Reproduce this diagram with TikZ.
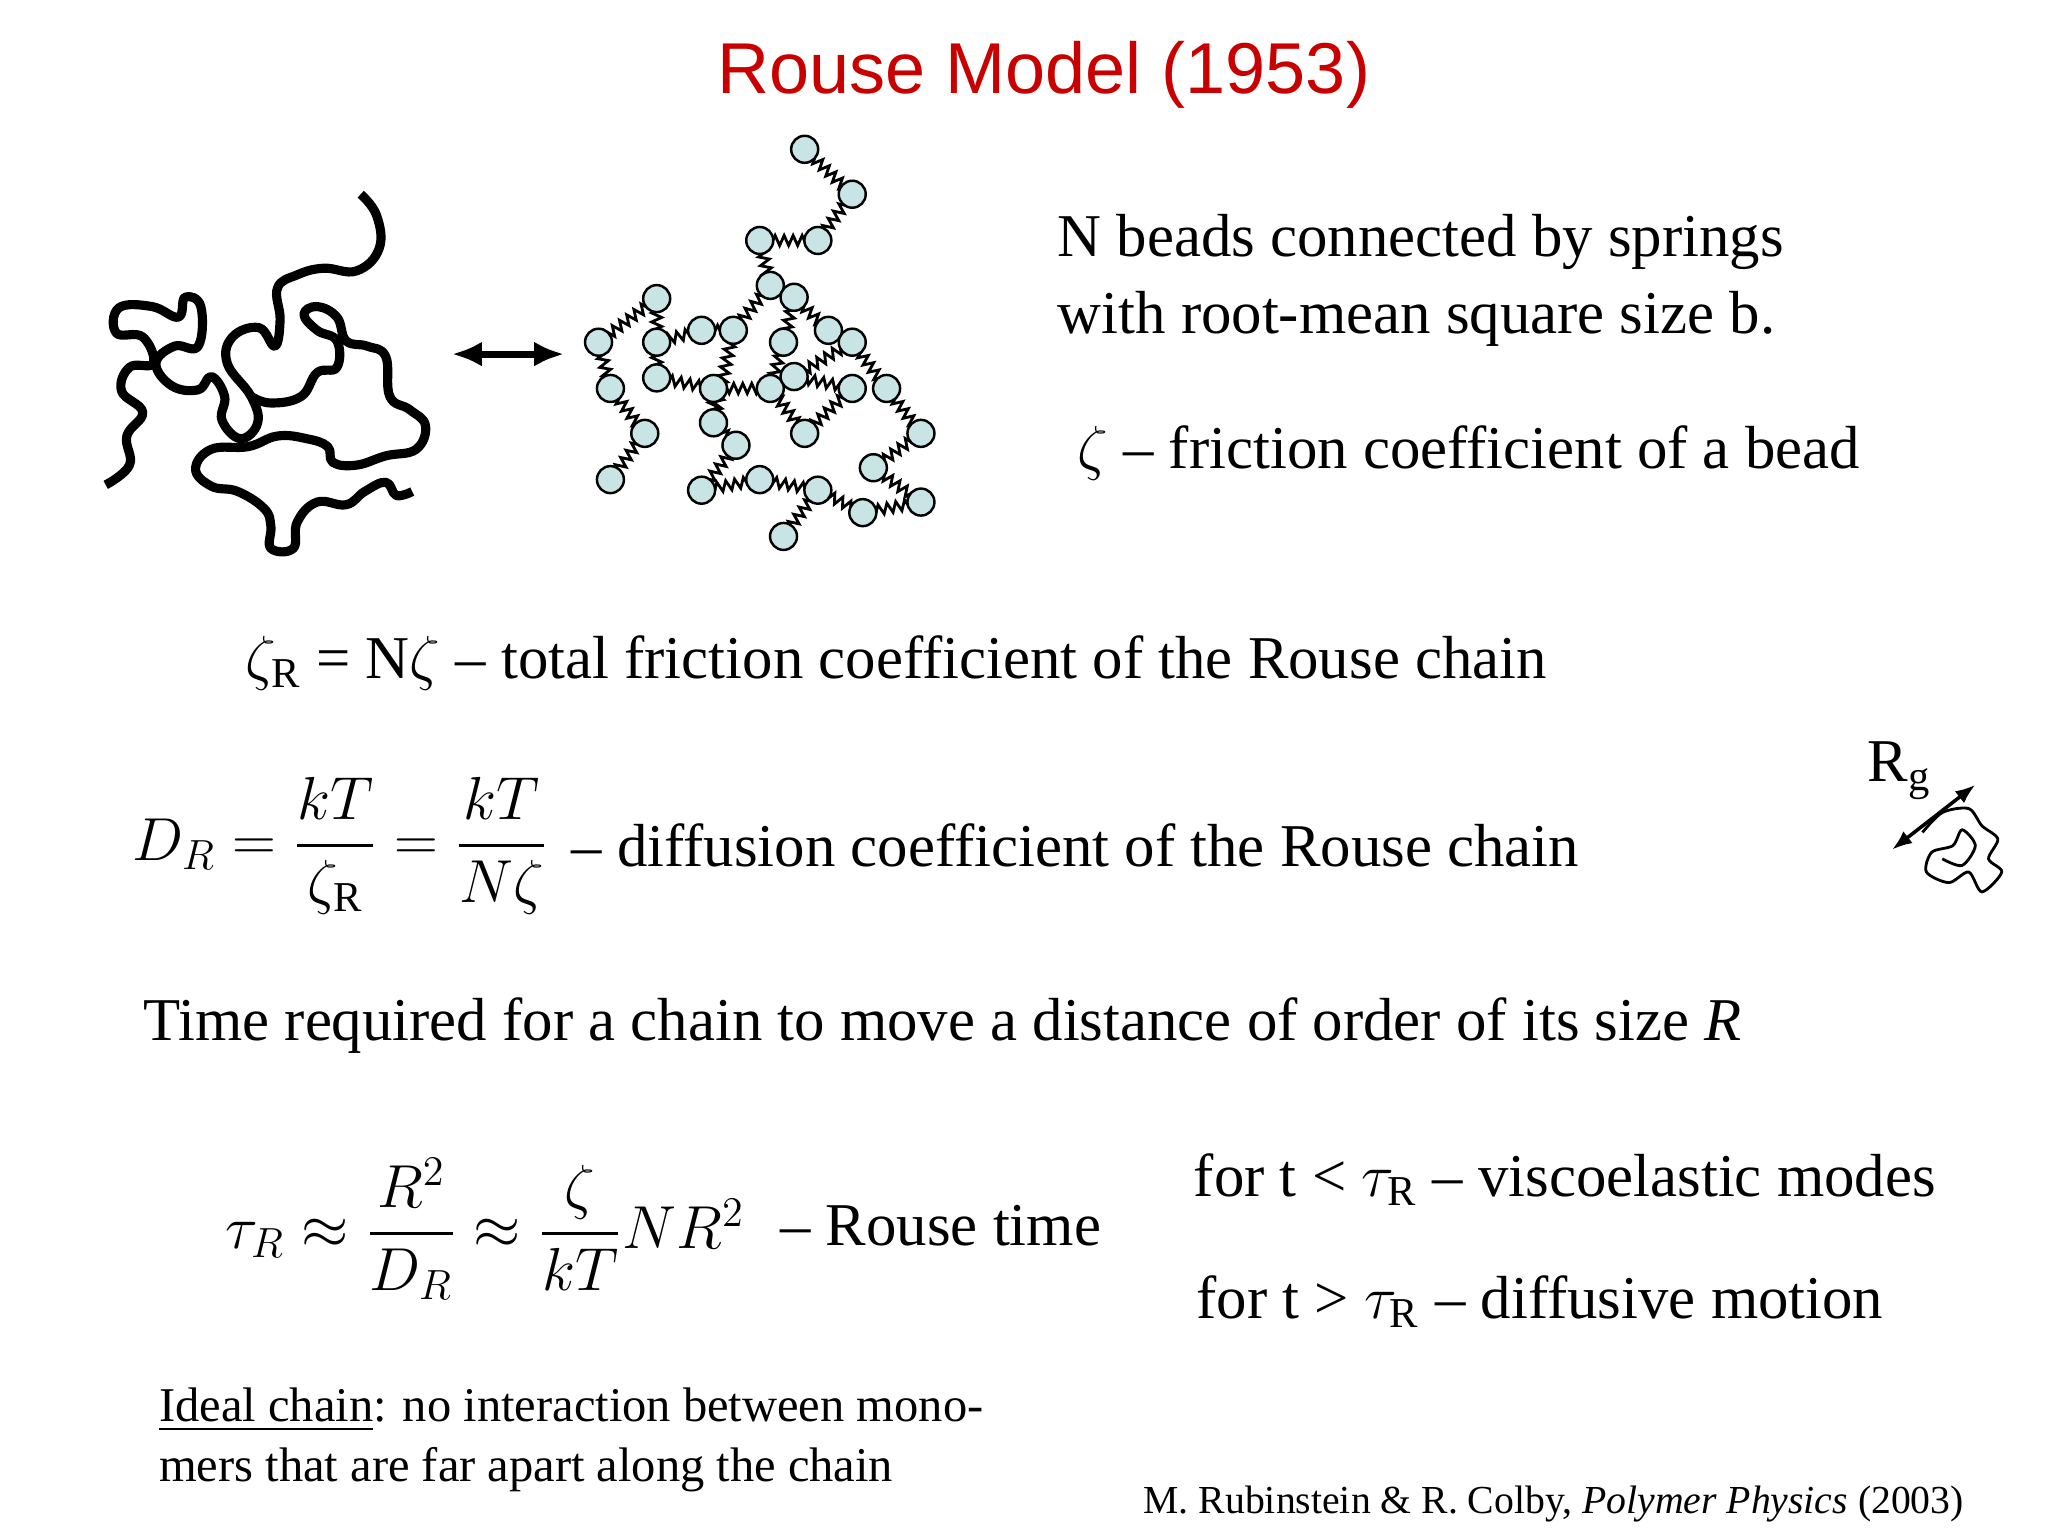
\documentclass[tikz,border=0pt]{standalone}
\usepackage{amsmath}
\usepackage{fontspec}
\setmainfont{Liberation Serif}
\newfontfamily\titlefont{Liberation Sans}
\usetikzlibrary{decorations.pathmorphing,arrows.meta}
\definecolor{beadc}{RGB}{200,228,228}
\definecolor{titlered}{RGB}{200,0,0}
\tikzset{bead/.style={circle,draw,fill=beadc,minimum size=0.27cm,inner sep=0pt,line width=0.7pt},
spr/.style={decorate,decoration={zigzag,amplitude=0.5mm,segment length=0.9mm},line width=0.8pt},
txt/.style={anchor=west,inner sep=0pt,font=\fontsize{17.3}{21}\selectfont}}
\begin{document}
\begin{tikzpicture}[x=0.013213cm,y=-0.013213cm]
\useasboundingbox (0,0) rectangle (1550,1162);
\node[font=\titlefont\fontsize{20.5}{24}\selectfont,text=titlered] (title) at (790,57) {Rouse Model (1953)};
% left chain
\draw[line width=2.6pt,line join=round] plot[smooth,tension=0.7] coordinates{(80,367)(98,352)(96,330)(108,312)(92,296)(98,278)(116,275)(108,255)(88,252)(90,233)(115,232)(135,240)(140,225)(152,232)(150,262)(132,262)(118,275)(130,292)(150,295)(160,285)(170,300)(168,318)(182,332)(195,320)(190,300)(172,275)(176,255)(196,248)(208,262)(212,242)(210,218)(225,208)(245,203)(270,205)(287,188)(285,163)(273,147)};
\draw[line width=2.6pt,line join=round] plot[smooth,tension=0.7] coordinates{(190,300)(205,305)(228,300)(240,282)(255,278)(255,258)(240,250)(230,238)(240,232)(255,240)(262,258)(278,262)(292,270)(295,300)(310,310)(322,322)(315,340)(292,345)(270,352)(252,350)(248,338)(232,332)(210,330)(188,338)(160,340)(148,355)(160,368)(180,372)(200,385)(205,398)(205,415)(222,415)(225,395)(240,380)(262,382)(276,372)(292,365)(300,375)(312,372)};
\coordinate (al) at (342,268); \coordinate (ar) at (427,268);
\draw[{Latex[length=3mm,width=2.5mm]}-{Latex[length=3mm,width=2.5mm]},line width=2pt] (al) -- (ar);
% beads
\foreach \n/\x/\y in {1/609/113,2/645/147,3/619/182,4/575/182,5/583/216,6/601/225,7/627/250,8/593/259,9/555/250,10/531/250,11/497/226,12/453/259,13/497/259,14/462/294,15/488/328,16/462/363,17/497/286,18/540/294,19/540/320,20/557/337,21/583/294,22/601/285,23/645/259,24/645/294,25/671/294,26/697/328,27/661/354,28/697/380,29/653/388,30/619/371,31/575/363,32/531/371,33/593/406,34/609/328}
  \coordinate (b\n) at (\x,\y);
\foreach \a/\b in {1/2,2/3,3/4,4/5,5/6,6/7,7/23,23/25,25/26,26/27,27/28,28/29,29/30,30/31,31/32,32/20,20/19,19/18,18/17,17/13,13/11,11/12,12/14,14/15,15/16,5/9,9/10,10/13,8/21,21/22,22/24,24/34,34/21,6/8,30/33,18/21,22/23,19/9}
  \draw[spr] (b\a) -- (b\b);
\foreach \n in {1,...,34} \node[bead] (c\n) at (b\n) {};
% texts
\node[txt] (t1) at (800,183) {N beads connected by springs};
\node[txt] (t2) at (800,241) {with root-mean square size b.};
\node[txt] (t3) at (815,343) {$\zeta$ -- friction coefficient of a bead};
\node[txt] (t4) at (185,502) {$\zeta_{\mathrm{R}}$ = N$\zeta$ -- total friction coefficient of the Rouse chain};
\node[txt] (t5) at (100,640) {$D_R=\dfrac{kT}{\zeta_{\mathrm{R}}}=\dfrac{kT}{N\zeta}$};
\node[txt] (t5b) at (432,640) {-- diffusion coefficient of the Rouse chain};
\node[txt] (t6) at (108,776) {Time required for a chain to move a distance of order of its size \textit{R}};
\node[txt] (t7) at (170,930) {$\tau_R\approx\dfrac{R^2}{D_R}\approx\dfrac{\zeta}{kT}NR^2$};
\node[txt] (t7b) at (590,928) {-- Rouse time};
\node[txt] (t8) at (903,893) {for t < $\tau_{\mathrm{R}}$ -- viscoelastic modes};
\node[txt] (t9) at (905,985) {for t > $\tau_{\mathrm{R}}$ -- diffusive motion};
\node[txt,font=\fontsize{13.8}{17}\selectfont,align=left,anchor=north west] (t10) at (120,1050) {\underline{Ideal chain}: no interaction between mono-\\mers that are far apart along the chain};
\node[txt,font=\fontsize{11.3}{14}\selectfont] (t11) at (865,1138) {M. Rubinstein \& R. Colby, \textit{Polymer Physics} (2003)};
% Rg
\node[txt] (rg) at (1413,583) {R$_{\mathrm{g}}$};
\draw[line width=0.8pt] plot[smooth] coordinates{(1455,630)(1470,615)(1490,612)(1500,625)(1512,635)(1505,650)(1515,660)(1500,675)(1490,660)(1475,668)(1458,660)(1462,645)(1478,640)(1485,628)(1495,640)(1485,655)(1470,650)};
\coordinate (r1) at (1432,643); \coordinate (r2) at (1495,594);
\draw[{Latex[length=2mm]}-{Latex[length=2mm]},line width=1pt] (r1) -- (r2);
\end{tikzpicture}
\end{document}
